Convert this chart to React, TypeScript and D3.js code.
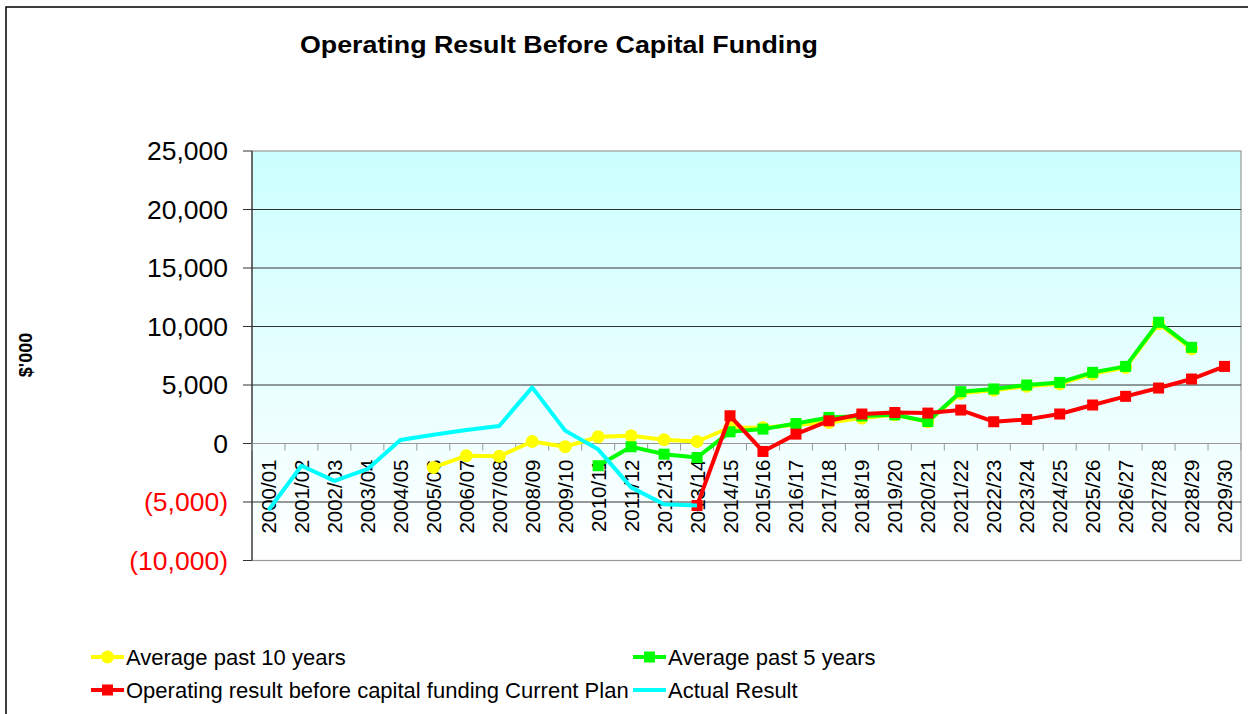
import React from "react";
import * as d3 from "d3";

// Operating result chart, values in $'000
const categories = [
  "2000/01", "2001/02", "2002/03", "2003/04", "2004/05", "2005/06", "2006/07", "2007/08",
  "2008/09", "2009/10", "2010/11", "2011/12", "2012/13", "2013/14", "2014/15", "2015/16",
  "2016/17", "2017/18", "2018/19", "2019/20", "2020/21", "2021/22", "2022/23", "2023/24",
  "2024/25", "2025/26", "2026/27", "2027/28", "2028/29", "2029/30",
];

const avg10 = [
  null, null, null, null, null, -2050, -1050, -1100, 170, -280, 570, 660, 320, 170, 1370,
  1350, 1600, 1800, 2170, 2450, 1850, 4300, 4550, 4900, 5100, 5950, 6500, 10250, 8100, null,
];
const avg5 = [
  null, null, null, null, null, null, null, null, null, null, -1900, -280, -910, -1200, 1000,
  1230, 1710, 2230, 2350, 2450, 1880, 4430, 4660, 5000, 5220, 6080, 6590, 10360, 8220, null,
];
const currentPlan = [
  null, null, null, null, null, null, null, null, null, null, null, null, null, -5300, 2370,
  -680, 800, 1940, 2520, 2650, 2600, 2860, 1860, 2060, 2520, 3290, 4030, 4740, 5510, 6590,
];
const actual = [
  -5700, -1900, -3200, -2200, 300, 750, 1150, 1500, 4800, 1100, -500, -3750, -5200, -5300, null,
  null, null, null, null, null, null, null, null, null, null, null, null, null, null, null,
];

const yTicks = [25000, 20000, 15000, 10000, 5000, 0, -5000, -10000];

const series = [
  { name: "Average past 10 years", values: avg10, color: "#ffff00", marker: "circle" },
  { name: "Average past 5 years", values: avg5, color: "#00ff00", marker: "square" },
  { name: "Operating result before capital funding Current Plan", values: currentPlan, color: "#ff0000", marker: "square" },
  { name: "Actual Result", values: actual, color: "#00ffff", marker: "none" },
];

const W = 1248;
const H = 714;
const plot = { left: 252, right: 1241, top: 151, bottom: 560.5 };

const fmt = (v) => {
  const s = d3.format(",")(Math.abs(v));
  return v < 0 ? `(${s})` : s;
};

const Marker = ({ type, x, y, color }) => {
  if (type === "circle") return <circle cx={x} cy={y} r={6.5} fill={color} />;
  if (type === "square") return <rect x={x - 5.5} y={y - 5.5} width={11} height={11} fill={color} />;
  return null;
};

export default function App() {
  const x = d3.scaleBand().domain(categories).range([plot.left, plot.right]);
  const y = d3.scaleLinear().domain([-10000, 25000]).range([plot.bottom, plot.top]);
  const cx = (c) => x(c) + x.bandwidth() / 2;

  const line = d3
    .line()
    .defined((d) => d[1] != null)
    .x((d) => cx(d[0]))
    .y((d) => y(d[1]));

  const font = "'Liberation Sans', Arial, sans-serif";

  const legend = [
    { s: series[0], lx: 91, ly: 657 },
    { s: series[1], lx: 633, ly: 657 },
    { s: series[2], lx: 91, ly: 690 },
    { s: series[3], lx: 633, ly: 690 },
  ];

  return (
    <svg width={W} height={H} style={{ position: "absolute", left: 0, top: 0, background: "#fff" }} fontFamily={font}>
      <defs>
        <linearGradient id="plotBg" x1="0" y1="0" x2="0" y2="1">
          <stop offset="0%" stopColor="#ccffff" />
          <stop offset="100%" stopColor="#ffffff" />
        </linearGradient>
      </defs>

      {/* chart frame */}
      <rect x={6} y={7} width={W + 20} height={H + 20} fill="#fff" stroke="#000" strokeWidth={1.5} />

      <text x={300} y={53} fontSize={23} fontWeight="bold" textLength={518} lengthAdjust="spacingAndGlyphs">
        Operating Result Before Capital Funding
      </text>

      {/* plot area */}
      <rect
        x={plot.left}
        y={plot.top}
        width={plot.right - plot.left}
        height={plot.bottom - plot.top}
        fill="url(#plotBg)"
        stroke="#999"
        strokeWidth={1.2}
      />

      {/* gridlines */}
      {yTicks
        .filter((t) => t !== 25000 && t !== -10000 && t !== 0)
        .map((t) => (
          <line key={t} x1={plot.left} x2={plot.right} y1={y(t)} y2={y(t)} stroke="#333" strokeWidth={1} />
        ))}

      {/* y axis */}
      <line x1={plot.left} x2={plot.left} y1={plot.top} y2={plot.bottom} stroke="#333" strokeWidth={1.2} />
      {yTicks.map((t) => (
        <g key={t}>
          <line x1={plot.left - 9} x2={plot.left} y1={y(t)} y2={y(t)} stroke="#333" strokeWidth={1} />
          <text
            x={228}
            y={y(t)}
            dy="0.35em"
            textAnchor="end"
            fontSize={26.5}
            fill={t < 0 ? "#ff0000" : "#000"}
          >
            {fmt(t)}
          </text>
        </g>
      ))}

      <text
        transform={`translate(32,355) rotate(-90)`}
        textAnchor="middle"
        fontSize={18}
        fontWeight="bold"
      >
        $'000
      </text>

      {/* x axis at zero */}
      <line x1={plot.left} x2={plot.right} y1={y(0)} y2={y(0)} stroke="#999" strokeWidth={1.2} />
      {categories.map((c) => (
        <line key={"t" + c} x1={x(c)} x2={x(c)} y1={y(0)} y2={y(0) + 7} stroke="#999" strokeWidth={1} />
      ))}
      <line x1={plot.right} x2={plot.right} y1={y(0)} y2={y(0) + 7} stroke="#999" strokeWidth={1} />
      {categories.map((c) => (
        <text
          key={"l" + c}
          transform={`translate(${cx(c) + 7.5},${y(0) + 16}) rotate(-90)`}
          textAnchor="end"
          fontSize={20.5}
        >
          {c}
        </text>
      ))}

      {/* series */}
      {series.map((s) => {
        const pts = categories.map((c, i) => [c, s.values[i]]);
        return (
          <g key={s.name}>
            <path d={line(pts)} fill="none" stroke={s.color} strokeWidth={4} strokeLinejoin="round" />
            {pts
              .filter((p) => p[1] != null)
              .map((p) => (
                <Marker key={p[0]} type={s.marker} x={cx(p[0])} y={y(p[1])} color={s.color} />
              ))}
          </g>
        );
      })}

      {/* legend */}
      {legend.map(({ s, lx, ly }) => (
        <g key={s.name}>
          <line x1={lx} x2={lx + 33} y1={ly} y2={ly} stroke={s.color} strokeWidth={4} />
          <Marker type={s.marker} x={lx + 16.5} y={ly} color={s.color} />
          <text x={lx + 35} y={ly} dy="0.35em" fontSize={22}>
            {s.name}
          </text>
        </g>
      ))}
    </svg>
  );
}
